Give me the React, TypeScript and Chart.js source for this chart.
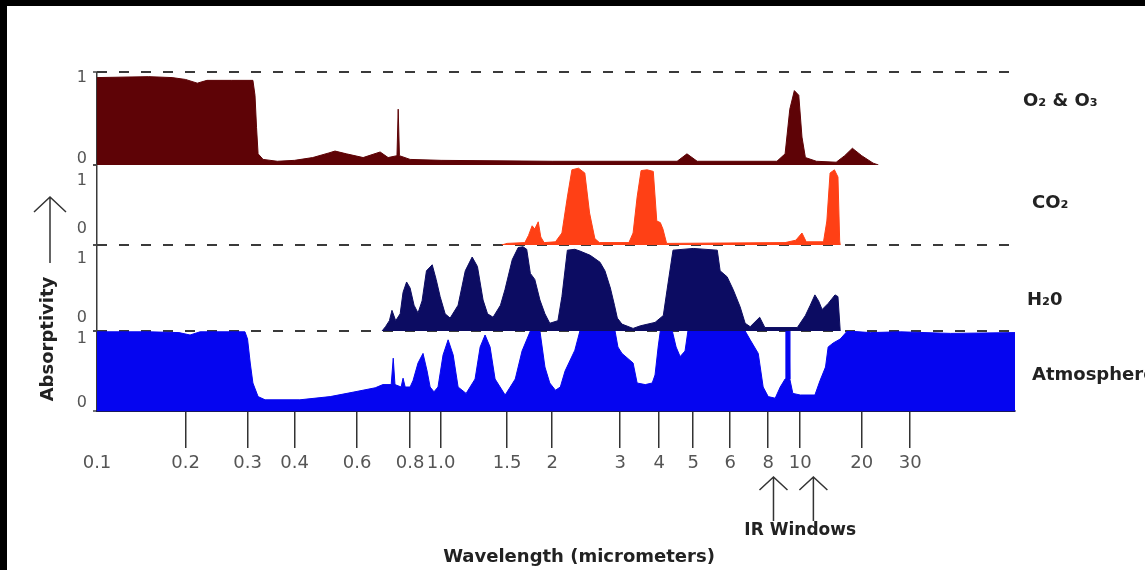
import React, { useEffect, useRef } from 'react';
import { Chart, registerables, LinearScale } from 'chart.js';

Chart.register(...registerables);

// ---- wavelength axis of the diagram (hand-drawn, non-uniform spacing) ----
const X_TICKS = [0.1, 0.2, 0.3, 0.4, 0.6, 0.8, 1.0, 1.5, 2, 3, 4, 5, 6, 8, 10, 20, 30];
const X_TICK_LABELS = ['0.1', '0.2', '0.3', '0.4', '0.6', '0.8', '1.0', '1.5', '2', '3', '4', '5', '6', '8', '10', '20', '30'];
// relative spacing of the tick marks along the diagram's axis (arbitrary units)
const X_TICK_SPACING = [0, 88.5, 150.5, 197.5, 260, 313, 344, 410, 455, 523, 562, 596, 633, 671, 703, 764.5, 813];
const X_MIN = 0.1;
const X_MAX = 72;

// ---- O2 & O3 ----
const O2_WL = [0.1, 0.15, 0.18, 0.2, 0.216, 0.23, 0.27, 0.31, 0.314, 0.317, 0.32, 0.33, 0.36, 0.4, 0.45, 0.5, 0.52, 0.56, 0.62, 0.68, 0.71, 0.745, 0.75, 0.755, 0.8, 1.0, 2.0, 4.5, 4.8, 5.1, 8.5, 9.0, 9.3, 9.6, 9.9, 10.2, 10.6, 12, 15, 16.5, 18, 20, 22, 23];
const O2_ABS = [0.94, 0.95, 0.94, 0.92, 0.88, 0.91, 0.91, 0.91, 0.75, 0.4, 0.12, 0.06, 0.04, 0.05, 0.08, 0.13, 0.15, 0.12, 0.08, 0.14, 0.08, 0.1, 0.6, 0.1, 0.06, 0.05, 0.04, 0.04, 0.12, 0.04, 0.04, 0.12, 0.6, 0.8, 0.75, 0.3, 0.08, 0.04, 0.03, 0.1, 0.18, 0.1, 0.02, 0];

// ---- CO2 ----
const CO2_WL = [1.45, 1.5, 1.68, 1.72, 1.76, 1.79, 1.83, 1.86, 1.9, 2.04, 2.12, 2.19, 2.25, 2.34, 2.43, 2.5, 2.58, 2.65, 3.2, 3.3, 3.4, 3.5, 3.66, 3.83, 3.93, 4.03, 4.1, 4.2, 9.0, 9.7, 10.2, 10.7, 13.0, 13.5, 14.0, 14.7, 15.3, 15.6, 15.7];
const CO2_ABS = [0, 0.02, 0.03, 0.12, 0.24, 0.2, 0.29, 0.1, 0.03, 0.04, 0.15, 0.6, 0.94, 0.96, 0.9, 0.4, 0.08, 0.03, 0.03, 0.15, 0.6, 0.93, 0.94, 0.92, 0.3, 0.28, 0.2, 0.02, 0.03, 0.06, 0.15, 0.04, 0.04, 0.3, 0.9, 0.94, 0.85, 0.05, 0];

// ---- H2O ----
const H2O_WL = [0.687, 0.7, 0.715, 0.725, 0.74, 0.758, 0.77, 0.785, 0.8, 0.823, 0.847, 0.872, 0.9, 0.938, 0.965, 0.993, 1.025, 1.057, 1.11, 1.16, 1.21, 1.25, 1.294, 1.33, 1.376, 1.44, 1.48, 1.55, 1.61, 1.66, 1.7, 1.74, 1.79, 1.85, 1.91, 1.97, 2.07, 2.12, 2.19, 2.29, 2.36, 2.51, 2.66, 2.74, 2.83, 2.9, 2.95, 3.04, 3.3, 3.48, 3.88, 4.11, 4.22, 4.38, 5.0, 5.63, 5.71, 5.91, 6.14, 6.47, 6.72, 6.98, 7.5, 7.8, 9.8, 10.6, 11.2, 11.8, 12.3, 12.8, 13.7, 14.8, 15.3, 15.7];
const H2O_ABS = [0, 0.05, 0.12, 0.24, 0.12, 0.2, 0.45, 0.57, 0.5, 0.3, 0.21, 0.35, 0.7, 0.77, 0.6, 0.4, 0.2, 0.15, 0.3, 0.7, 0.86, 0.75, 0.36, 0.2, 0.16, 0.3, 0.48, 0.83, 0.97, 0.98, 0.95, 0.67, 0.6, 0.36, 0.2, 0.09, 0.12, 0.4, 0.94, 0.95, 0.93, 0.88, 0.8, 0.7, 0.5, 0.3, 0.15, 0.08, 0.03, 0.06, 0.1, 0.18, 0.5, 0.94, 0.96, 0.94, 0.7, 0.63, 0.48, 0.28, 0.09, 0.05, 0.16, 0.04, 0.04, 0.18, 0.3, 0.42, 0.35, 0.25, 0.32, 0.42, 0.4, 0];

// ---- Atmosphere ----
const ATM_WL = [0.1, 0.15, 0.19, 0.206, 0.22, 0.295, 0.3, 0.305, 0.31, 0.32, 0.334, 0.414, 0.504, 0.592, 0.662, 0.69, 0.722, 0.73, 0.737, 0.762, 0.77, 0.779, 0.8, 0.817, 0.847, 0.878, 0.904, 0.924, 0.95, 0.978, 1.012, 1.044, 1.077, 1.11, 1.166, 1.232, 1.271, 1.31, 1.351, 1.393, 1.482, 1.53, 1.58, 1.65, 1.74, 1.85, 1.91, 1.97, 2.04, 2.1, 2.16, 2.29, 2.36, 2.91, 2.96, 3.04, 3.3, 3.4, 3.61, 3.8, 3.88, 3.97, 4.03, 4.36, 4.47, 4.59, 4.74, 4.83, 6.72, 6.98, 7.42, 7.7, 8.0, 8.4, 8.7, 9.0, 9.05, 9.25, 9.3, 9.5, 10, 11.8, 12.5, 13.3, 13.7, 14.5, 15.7, 17, 21.5, 27.6, 42, 72];
const ATM_ABS = [0.99, 0.99, 0.98, 0.95, 0.99, 0.99, 0.9, 0.6, 0.35, 0.18, 0.14, 0.14, 0.18, 0.24, 0.29, 0.33, 0.33, 0.66, 0.33, 0.3, 0.41, 0.3, 0.3, 0.38, 0.6, 0.72, 0.5, 0.3, 0.24, 0.3, 0.7, 0.89, 0.7, 0.3, 0.22, 0.4, 0.8, 0.95, 0.8, 0.4, 0.2, 0.3, 0.4, 0.75, 1.0, 1.0, 0.55, 0.35, 0.26, 0.3, 0.5, 0.76, 1.0, 1.0, 0.8, 0.72, 0.6, 0.35, 0.33, 0.35, 0.45, 0.8, 1.0, 1.0, 0.8, 0.68, 0.75, 1.0, 1.0, 0.89, 0.72, 0.3, 0.18, 0.16, 0.3, 0.4, 1.0, 1.0, 0.4, 0.22, 0.2, 0.2, 0.38, 0.55, 0.8, 0.85, 0.9, 1.0, 0.98, 0.99, 0.97, 0.98];

const BAND_LABELS = ['O₂ & O₃', 'CO₂', 'H₂0', 'Atmosphere'];
const IR_WINDOW_WL = [8.3, 11.6];

const FONT = 'DejaVu Sans';

function warp(v: number): number {
  const n = X_TICKS.length;
  let i = 0;
  if (v >= X_TICKS[n - 1]) i = n - 2;
  else if (v > X_TICKS[0]) {
    while (i < n - 2 && v > X_TICKS[i + 1]) i++;
  }
  const a = X_TICKS[i], b = X_TICKS[i + 1];
  const pa = X_TICK_SPACING[i], pb = X_TICK_SPACING[i + 1];
  return pa + ((pb - pa) * Math.log(v / a)) / Math.log(b / a);
}

function unwarp(p: number): number {
  const n = X_TICKS.length;
  let i = 0;
  while (i < n - 2 && p > X_TICK_SPACING[i + 1]) i++;
  const a = X_TICKS[i], b = X_TICKS[i + 1];
  const pa = X_TICK_SPACING[i], pb = X_TICK_SPACING[i + 1];
  return a * Math.pow(b / a, (p - pa) / (pb - pa));
}

class WarpScale extends (LinearScale as any) {
  static id = 'warp';
  buildTicks() {
    return X_TICKS.map((value) => ({ value }));
  }
  getPixelForValue(value: any) {
    if (value === null || value === undefined || isNaN(value)) return NaN;
    const w0 = warp(this.min), w1 = warp(this.max);
    return this.getPixelForDecimal((warp(value) - w0) / (w1 - w0));
  }
  getValueForPixel(pixel: number) {
    const w0 = warp(this.min), w1 = warp(this.max);
    return unwarp(w0 + this.getDecimalForPixel(pixel) * (w1 - w0));
  }
}
Chart.register(WarpScale as any);

const pts = (wl: number[], ab: number[]) => wl.map((x, i) => ({ x, y: ab[i] }));

const band = (label: string, wl: number[], ab: number[], color: string, axis: string) => ({
  label,
  data: pts(wl, ab),
  yAxisID: axis,
  borderColor: color,
  backgroundColor: color,
  borderWidth: 1,
  fill: 'origin',
  pointRadius: 0,
  tension: 0,
});

const yAxis = (weight: number, stackWeight: number, lineHeight: number, dashValue: number | null) => ({
  type: 'linear',
  min: 0,
  max: 1,
  position: 'left',
  stack: 'bands',
  stackWeight,
  weight,
  afterFit: (s: any) => {
    s.width = 30;
  },
  afterBuildTicks: (s: any) => {
    s.ticks = [{ value: 0 }, { value: 1 }];
  },
  grid: {
    drawOnChartArea: true,
    color: (c: any) => (c.tick && c.tick.value === dashValue ? '#3a3a3a' : 'rgba(0,0,0,0)'),
    lineWidth: 2,
    tickLength: 4,
    tickColor: '#444',
    tickWidth: 1.5,
  },
  border: { display: false, dash: [10, 12] },
  ticks: {
    autoSkip: false,
    padding: 6,
    color: '#555',
    font: { family: FONT, size: 16, lineHeight: lineHeight + 'px' },
    callback: (v: number) => (v === 1 ? ['', '1'] : ['0', '']),
  },
});

const annotations = {
  id: 'annotations',
  afterDraw(chart: any) {
    const { ctx, chartArea, scales } = chart;
    const x = scales.x;
    ctx.save();
    ctx.fillStyle = '#222';
    ctx.strokeStyle = '#333';
    ctx.lineWidth = 1.5;

    // band labels on the right
    ctx.font = `bold 18px "${FONT}"`;
    ctx.textBaseline = 'middle';
    ctx.textAlign = 'left';
    const bandPos = [
      { axis: 'yO2', at: 0.69, dx: 8 },
      { axis: 'yCO2', at: 0.52, dx: 17 },
      { axis: 'yH2O', at: 0.36, dx: 12 },
      { axis: 'yAtm', at: 0.44, dx: 17 },
    ];
    bandPos.forEach((b, i) => {
      ctx.fillText(BAND_LABELS[i], chartArea.right + b.dx, scales[b.axis].getPixelForValue(b.at));
    });

    // y title with arrow
    ctx.save();
    ctx.translate(41, 333);
    ctx.rotate(-Math.PI / 2);
    ctx.font = `bold 18px "${FONT}"`;
    ctx.textAlign = 'center';
    ctx.fillText('Absorptivity', 0, 0);
    ctx.restore();
    const ax = 43, tip = 191;
    ctx.beginPath();
    ctx.moveTo(ax, 257);
    ctx.lineTo(ax, tip);
    ctx.moveTo(ax - 16, tip + 15);
    ctx.lineTo(ax, tip);
    ctx.lineTo(ax + 16, tip + 15);
    ctx.stroke();

    // IR windows arrows
    IR_WINDOW_WL.forEach((w) => {
      const px = x.getPixelForValue(w);
      const t = 471;
      ctx.beginPath();
      ctx.moveTo(px, 515);
      ctx.lineTo(px, t);
      ctx.moveTo(px - 14, t + 13);
      ctx.lineTo(px, t);
      ctx.lineTo(px + 14, t + 13);
      ctx.stroke();
    });
    ctx.font = `bold 17px "${FONT}"`;
    ctx.textAlign = 'center';
    ctx.fillText('IR Windows', x.getPixelForValue(10), 525);

    ctx.font = `bold 18px "${FONT}"`;
    ctx.fillText('Wavelength (micrometers)', 572, 551);
    ctx.restore();
  },
};

export default function App() {
  const ref = useRef<HTMLCanvasElement>(null);
  useEffect(() => {
    Chart.defaults.font.family = FONT;
    const chart = new Chart(ref.current as HTMLCanvasElement, {
      type: 'line',
      data: {
        datasets: [
          band('O₂ & O₃', O2_WL, O2_ABS, '#5e0306', 'yO2'),
          band('CO₂', CO2_WL, CO2_ABS, '#ff4015', 'yCO2'),
          band('H₂0', H2O_WL, H2O_ABS, '#0c0c62', 'yH2O'),
          band('Atmosphere', ATM_WL, ATM_ABS, '#0505f0', 'yAtm'),
        ] as any,
      },
      options: {
        animation: false,
        responsive: false,
        maintainAspectRatio: false,
        devicePixelRatio: 1,
        events: [],
        layout: { padding: { left: 60, right: 130, top: 66, bottom: 99 } },
        plugins: { legend: { display: false }, tooltip: { enabled: false } },
        scales: {
          x: {
            type: 'warp',
            min: X_MIN,
            max: X_MAX,
            position: 'bottom',
            afterFit: (s: any) => {
              s.height = 60;
            },
            grid: {
              drawOnChartArea: true,
              color: (c: any) => (c.index === 0 ? '#3a3a3a' : 'rgba(0,0,0,0)'),
              lineWidth: 1.5,
              tickLength: 37,
              tickColor: (c: any) => (c.index === 0 ? 'rgba(0,0,0,0)' : '#333'),
              tickWidth: 1.5,
            },
            border: { display: true, color: '#1a1a5a', width: 2 },
            ticks: {
              autoSkip: false,
              maxRotation: 0,
              minRotation: 0,
              padding: 5,
              color: '#555',
              font: { family: FONT, size: 18 },
              callback: (_v: any, i: number) => X_TICK_LABELS[i],
            },
          },
          yAtm: yAxis(1, 80, 16, null),
          yH2O: yAxis(2, 86, 27, 0),
          yCO2: yAxis(3, 80, 32, 0),
          yO2: yAxis(4, 93, 12, 1),
        } as any,
      },
      plugins: [annotations],
    } as any);
    return () => chart.destroy();
  }, []);
  return (
    <div style={{ position: 'fixed', left: 0, top: 0, width: 1145, height: 570, background: '#000', overflow: 'hidden' }}>
      <div style={{ position: 'absolute', left: 7, top: 6, width: 1138, height: 564, background: '#fff' }}>
        <canvas ref={ref} width={1138} height={564} style={{ display: 'block' }} />
      </div>
    </div>
  );
}
